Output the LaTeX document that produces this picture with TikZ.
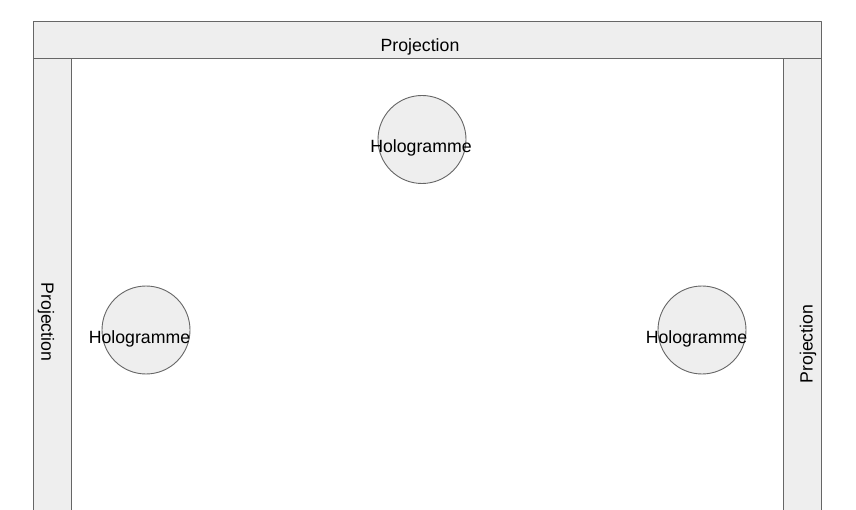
\documentclass[tikz,border=0pt]{standalone}
\usepackage{fontspec}
\setmainfont{Liberation Sans}
\definecolor{panelfill}{HTML}{EEEEEE}
\definecolor{panelline}{HTML}{666666}
\begin{document}
\begin{tikzpicture}[x=1pt, y=-1pt, line cap=round, line join=round,
    panel/.style={fill=panelfill, draw=panelline, line width=0.9pt},
    holo/.style={circle, fill=panelfill, draw=panelline, line width=0.9pt,
      minimum size=88pt, inner sep=0pt},
    caption/.style={font=\fontsize{17.7}{20}\selectfont, text=black, inner sep=0pt}]
  \useasboundingbox (0,0) rectangle (856,510);
  \clip (0,0) rectangle (856,510);

  % Projection walls
  \draw[panel] (33,21) rectangle (821,58);
  \draw[panel] (33,58) rectangle (71,540);
  \draw[panel] (783,58) rectangle (821,540);

  % Wall labels
  \node[caption] (projTop) at (420,47) {Projection};
  \node[caption, rotate=-90] (projLeft) at (46,322) {Projection};
  \node[caption, rotate=90] (projRight) at (808,344) {Projection};

  % Holograms
  \node[holo] (holoTop) at (422,139.5) {};
  \node[holo] (holoLeft) at (146,330) {};
  \node[holo] (holoRight) at (702,330) {};

  \node[caption] (holoTopTxt) at (421,148) {Hologramme};
  \node[caption] (holoLeftTxt) at (139.5,339) {Hologramme};
  \node[caption] (holoRightTxt) at (696.5,339) {Hologramme};
\end{tikzpicture}
\end{document}
